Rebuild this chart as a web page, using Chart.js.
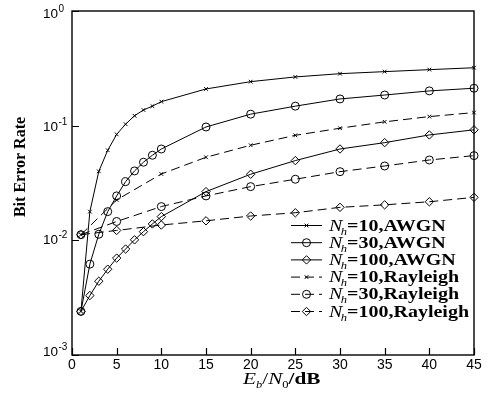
<!DOCTYPE html>
<html>
<head>
<meta charset="utf-8">
<script src="https://cdn.jsdelivr.net/npm/chart.js@4/dist/chart.umd.min.js"></script>
<style>
  body { margin: 0; background: #fff; }
  canvas { display: block; }
</style>
</head>
<body>
<canvas id="berChart" width="489" height="399"></canvas>
<script>
// ---- data ----
const snrAwgn = [1, 2, 3, 4, 5, 6, 7, 8, 9, 10, 15, 20, 25, 30, 35, 40, 45];
const snrRayleigh = [1, 5, 10, 15, 20, 25, 30, 35, 40, 45];

const berNh10Awgn = [0.0024, 0.0178, 0.040, 0.061, 0.084, 0.103, 0.122, 0.137, 0.148, 0.162, 0.209, 0.242, 0.266, 0.284, 0.296, 0.308, 0.320];
const berNh30Awgn = [0.0024, 0.0062, 0.0113, 0.0178, 0.0244, 0.0325, 0.0403, 0.048, 0.0552, 0.0626, 0.0974, 0.126, 0.148, 0.171, 0.185, 0.201, 0.212];
const berNh100Awgn = [0.0024, 0.0033, 0.0044, 0.0056, 0.0070, 0.0084, 0.0101, 0.0119, 0.0139, 0.0161, 0.0266, 0.0377, 0.0496, 0.0626, 0.0711, 0.083, 0.092];
const berNh10Rayleigh = [0.0112, 0.0225, 0.0379, 0.053, 0.0675, 0.0824, 0.095, 0.108, 0.120, 0.130];
const berNh30Rayleigh = [0.0112, 0.0146, 0.0197, 0.0244, 0.0294, 0.0341, 0.0397, 0.0445, 0.0502, 0.0548];
const berNh100Rayleigh = [0.0112, 0.0122, 0.0136, 0.0148, 0.0163, 0.0174, 0.0194, 0.0204, 0.0217, 0.0237];

const seriesLabels = ['Nh=10,AWGN', 'Nh=30,AWGN', 'Nh=100,AWGN', 'Nh=10,Rayleigh', 'Nh=30,Rayleigh', 'Nh=100,Rayleigh'];

const xTicks = [0, 5, 10, 15, 20, 25, 30, 35, 40, 45];
const yTickExponents = [0, -1, -2, -3];

const xTitle = ['E', 'b', '/', 'N', '0', '/dB'];
const yTitle = 'Bit Error Rate';

// ================= HELPERS =================

const SERIF = '"Liberation Serif", "Times New Roman", serif';
const SANS = '"Liberation Sans", Arial, sans-serif';
const DASH = [9, 5];
const SERIF_STRETCH = 1.25;   // serif text in the figure is drawn wide

function toPoints(xs, ys){
    return xs.map((x, i) => ({ x: x, y: ys[i] }));
}

function series(label, xs, ys, style, dashed){
    return {
        label: label,
        data: toPoints(xs, ys),
        borderColor: '#000',
        borderWidth: 1,
        borderDash: dashed ? DASH : [],
        backgroundColor: 'rgba(0,0,0,0)',
        pointStyle: style,
        pointRadius: style === 'crossRot' ? 2.6 : (style === 'circle' ? 4 : 4.2),
        pointBorderColor: '#000',
        pointBorderWidth: 1,
        pointBackgroundColor: 'rgba(0,0,0,0)',
        tension: 0,
        clip: false
    };
}

// draws text stretched horizontally, returns the advance
function wideText(c, text, font, x, y){
    c.save();
    c.font = font;
    c.translate(x, y);
    c.scale(SERIF_STRETCH, 1);
    c.fillText(text, 0, 0);
    const w = c.measureText(text).width * SERIF_STRETCH;
    c.restore();
    return w;
}

// ================= AXES, LABELS, LEGEND =================

const frameAndText = {
    id: 'frameAndText',
    afterDatasetsDraw(chart){
        const c = chart.ctx;
        const a = chart.chartArea;
        const xs = chart.scales.x;
        const ys = chart.scales.y;

        c.save();
        c.strokeStyle = '#000';
        c.fillStyle = '#000';
        c.lineWidth = 1.4;
        c.setLineDash([]);
        c.strokeRect(a.left, a.top, a.right - a.left, a.bottom - a.top);

        // inward ticks
        c.lineWidth = 1.2;
        c.beginPath();
        xTicks.forEach(v => {
            const px = Math.round(xs.getPixelForValue(v)) + 0.5;
            c.moveTo(px, a.bottom);
            c.lineTo(px, a.bottom - 7);
        });
        yTickExponents.forEach(e => {
            const py = Math.round(ys.getPixelForValue(Math.pow(10, e))) + 0.5;
            c.moveTo(a.left, py);
            c.lineTo(a.left + 7, py);
        });
        c.stroke();

        // x tick labels
        c.font = '14px ' + SANS;
        c.textAlign = 'center';
        c.textBaseline = 'middle';
        xTicks.forEach(v => {
            c.fillText(String(v), xs.getPixelForValue(v), a.bottom + 10);
        });

        // y tick labels 10^n
        c.textAlign = 'left';
        yTickExponents.forEach((e, i) => {
            const py = ys.getPixelForValue(Math.pow(10, e)) + 3.5 - 2 * i;
            c.font = '13.5px ' + SANS;
            c.fillText('10', 43, py);
            const w = c.measureText('10').width;
            c.font = '10px ' + SANS;
            c.fillText(String(e), 43 + w + 0.5, py - 5);
        });

        // y title
        c.save();
        c.translate(21, 167);
        c.rotate(-Math.PI / 2);
        c.font = 'bold 16px ' + SERIF;
        c.textAlign = 'center';
        c.textBaseline = 'middle';
        c.fillText(yTitle, 0, 0);
        c.restore();

        // x title E_b/N_0/dB
        c.textAlign = 'left';
        c.textBaseline = 'alphabetic';
        let tx = 243;
        const base = 384;
        const parts = [
            { t: xTitle[0], f: 'italic 17px ' + SERIF, dy: 0 },
            { t: xTitle[1], f: 'italic 10px ' + SERIF, dy: 4 },
            { t: xTitle[2], f: '17px ' + SERIF, dy: 0 },
            { t: xTitle[3], f: 'italic 17px ' + SERIF, dy: 0 },
            { t: xTitle[4], f: '10px ' + SERIF, dy: 4 },
            { t: xTitle[5], f: 'bold 17px ' + SERIF, dy: 0 }
        ];
        parts.forEach(p => {
            tx += wideText(c, p.t, p.f, tx, base + p.dy);
        });

        // legend
        chart.data.datasets.forEach((ds, i) => {
            const cy = 225 + i * 17.2;
            c.lineWidth = 1;
            c.setLineDash(ds.borderDash);
            c.beginPath();
            c.moveTo(291, cy + 0.5);
            c.lineTo(322, cy + 0.5);
            c.stroke();
            c.setLineDash([]);
            c.fillStyle = 'rgba(0,0,0,0)';
            Chart.helpers.drawPoint(c, {
                pointStyle: ds.pointStyle,
                radius: ds.pointRadius,
                rotation: 0,
                borderWidth: 1
            }, 306.5, cy + 0.5);
            c.fillStyle = '#000';

            let lx = 329;
            const lb = cy + 5.5;
            lx += wideText(c, 'N', 'italic 16px ' + SERIF, lx, lb) - 1.5;
            lx += wideText(c, 'h', 'italic 10px ' + SERIF, lx, lb + 4);
            wideText(c, ds.label.slice(2), 'bold 16px ' + SERIF, lx, lb);
        });
        c.restore();
    }
};

// ================= CHART.JS =================

const ctx = document.getElementById('berChart');

if(ctx){
    new Chart(ctx, {
        type: 'line',
        data: {
            datasets: [
                series(seriesLabels[0], snrAwgn, berNh10Awgn, 'crossRot', false),
                series(seriesLabels[1], snrAwgn, berNh30Awgn, 'circle', false),
                series(seriesLabels[2], snrAwgn, berNh100Awgn, 'rectRot', false),
                series(seriesLabels[3], snrRayleigh, berNh10Rayleigh, 'crossRot', true),
                series(seriesLabels[4], snrRayleigh, berNh30Rayleigh, 'circle', true),
                series(seriesLabels[5], snrRayleigh, berNh100Rayleigh, 'rectRot', true)
            ]
        },
        options: {
            responsive: false,
            devicePixelRatio: 1,
            animation: false,
            layout: { padding: { left: 72, top: 11, right: 15, bottom: 44 } },
            plugins: {
                legend: { display: false },
                tooltip: { enabled: false }
            },
            scales: {
                x: { type: 'linear', min: 0, max: 45, display: false },
                y: { type: 'logarithmic', min: 0.001, max: 1, display: false }
            }
        },
        plugins: [frameAndText]
    });
}
</script>
</body>
</html>
